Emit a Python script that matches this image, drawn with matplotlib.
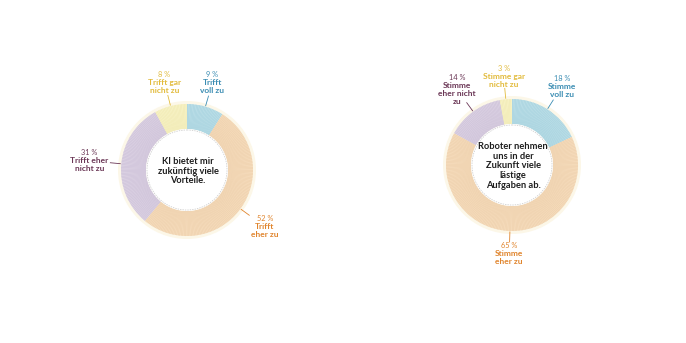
import numpy as np
import matplotlib.pyplot as plt
from matplotlib.patches import Wedge, Circle

plt.rcParams['font.family'] = ['Lato', 'DejaVu Sans']

# survey answers, clockwise from 12 o'clock
left_title = "KI bietet mir\nzukünftig viele\nVorteile."
left_values = [9, 52, 31, 8]
left_labels = ["Trifft\nvoll zu", "Trifft\neher zu", "Trifft eher\nnicht zu", "Trifft gar\nnicht zu"]

right_title = "Roboter nehmen\nuns in der\nZukunft viele\nlästige\nAufgaben ab."
right_values = [18, 65, 14, 3]
right_labels = ["Stimme\nvoll zu", "Stimme\neher zu", "Stimme\neher nicht\nzu", "Stimme gar\nnicht zu"]

fills = ["#bcdfe8", "#f6dcbc", "#dcd2e4", "#f8f3c6"]
strokes = ["#a3d0dd", "#ecceaa", "#cbbfd6", "#efe8b0"]
text_cols = ["#3b8db3", "#e0842c", "#6b3756", "#e2bb3c"]

R_OUT, R_IN = 66, 41

fig = plt.figure(figsize=(6.86, 3.43), dpi=100)
ax = fig.add_axes([0, 0, 1, 1])
ax.set_xlim(0, 686)
ax.set_ylim(343, 0)
ax.axis('off')


def donut(cx, cy, values, labels, title):
    # soft cream halo around the ring
    ax.add_patch(Circle((cx, cy), R_OUT + 3, color="#fcf7e8", lw=0, zorder=1))
    total = float(sum(values))
    start = 90.0
    for i, v in enumerate(values):
        span = 360.0 * v / total
        end = start - span
        # y axis is flipped, so angles are mirrored: use -angle for drawing
        ax.add_patch(Wedge((cx, cy), R_OUT, -start, -end, width=R_OUT - R_IN,
                           facecolor=fills[i], edgecolor="none", zorder=2))
        # fine radial hatching
        for a in np.arange(start - 0.6, end, -1.3):
            t = np.radians(a)
            ax.plot([cx + R_IN * np.cos(t), cx + R_OUT * np.cos(t)],
                    [cy - R_IN * np.sin(t), cy - R_OUT * np.sin(t)],
                    color=strokes[i], lw=0.35, zorder=3, solid_capstyle='butt')
        mid = np.radians((start + end) / 2)
        c, s = np.cos(mid), -np.sin(mid)
        # leader line
        ax.plot([cx + 67 * c, cx + 77 * c], [cy + 67 * s, cy + 77 * s],
                color=text_cols[i], lw=0.6, zorder=4)
        # label block: percent on top, answer below; side labels sit further out
        lines = labels[i].split("\n")
        n = len(lines) + 1
        lh = 8.0
        label_r = 88 + 10 * abs(c)
        bx, by = cx + label_r * c, cy + label_r * s
        y0 = by - (n - 1) * lh / 2
        ax.text(bx, y0, f"{v} %", color=text_cols[i], fontsize=5.3,
                ha='center', va='center', zorder=5)
        for j, ln in enumerate(lines):
            ax.text(bx, y0 + (j + 1) * lh, ln, color=text_cols[i], fontsize=6,
                    fontweight='bold', ha='center', va='center', zorder=5)
        start = end
    ax.add_patch(Circle((cx, cy), R_IN, color="white", lw=0, zorder=4))
    ax.add_patch(Circle((cx, cy), R_IN - 1, fill=False, edgecolor="#c8c8c8",
                        lw=0.5, ls=(0, (2, 1.5)), zorder=5))
    ax.text(cx + 1, cy + 1, title, ha='center', va='center', fontsize=6.7,
            fontweight='bold', color="#1e1e1e", linespacing=1.08, zorder=6)


donut(187, 170, left_values, left_labels, left_title)
donut(512, 165, right_values, right_labels, right_title)

fig.savefig("out.png", dpi=100)
